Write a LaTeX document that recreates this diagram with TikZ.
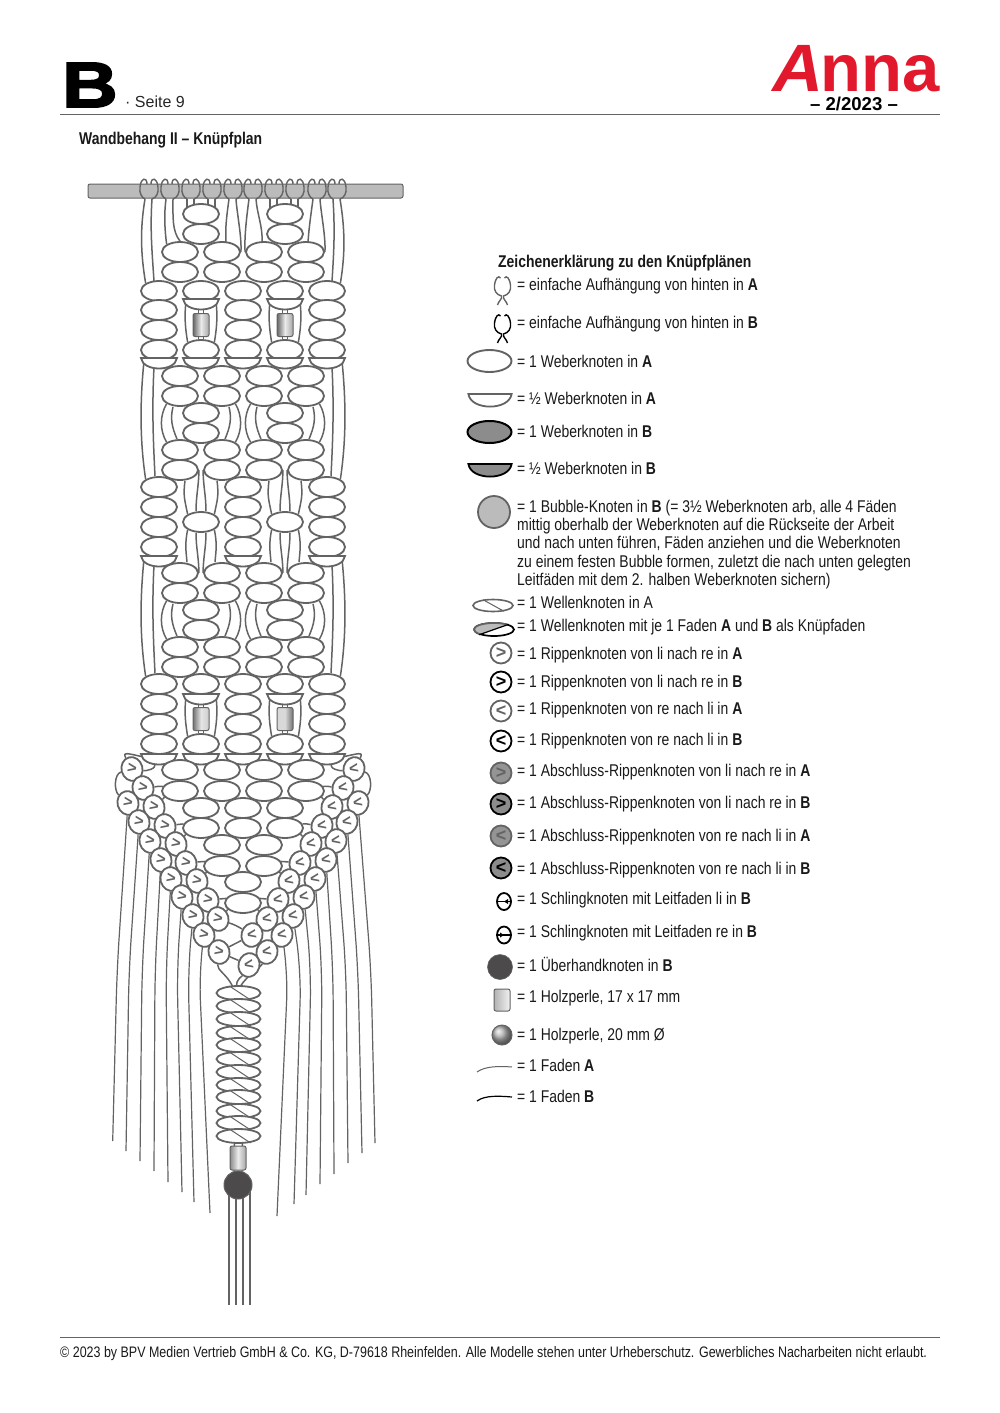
\documentclass[tikz,border=0pt]{standalone}
\usepackage{fontspec}
\setmainfont{Liberation Sans}[FakeStretch=0.82]
\newfontfamily\plainfont{Liberation Sans}
\newfontfamily\bigfont{Liberation Sans}[FakeStretch=1.2,FakeBold=3]
\newfontfamily\slantfont{Liberation Sans}[FakeSlant=0.2,FakeStretch=1.05]
\usetikzlibrary{shapes.geometric,backgrounds,calc}
\definecolor{fadenA}{HTML}{636363}
\definecolor{rodgrey}{HTML}{BBBBBB}
\definecolor{knotgrey}{HTML}{8C8C8C}
\definecolor{darkball}{HTML}{4D4A4B}
\definecolor{annared}{HTML}{E2182D}
\newcommand{\ribr}{\rotatebox{-25}{\plainfont\bfseries >}}
\newcommand{\ribl}{\rotatebox{25}{\plainfont\bfseries <}}
\tikzset{faden/.style={draw=fadenA,line width=1.5pt}}
\tikzset{fringe/.style={draw=fadenA,line width=1.2pt,rounded corners=30pt}}
\tikzset{knot/.style={ellipse,draw=fadenA,fill=white,line width=1.8pt,minimum width=36pt,minimum height=20pt,inner sep=0pt}}
\tikzset{wknot/.style={ellipse,draw=fadenA,fill=white,line width=1.8pt,minimum width=44pt,minimum height=14pt,inner sep=0pt}}
\tikzset{ribchain/.style={ellipse,draw=fadenA,fill=white,text=fadenA,line width=1.8pt,minimum width=21pt,minimum height=24pt,inner sep=0pt,font=\fontsize{16}{16}\selectfont}}
\tikzset{ribkey/.style={circle,line width=1.8pt,minimum size=21pt,inner sep=0pt,font=\plainfont\bfseries\fontsize{18}{18}\selectfont}}
\tikzset{bead/.style={rectangle,rounded corners=2pt,draw=fadenA,line width=1pt,minimum width=16pt,minimum height=23pt,inner sep=0pt}}
\tikzset{legtext/.style={anchor=west,inner sep=0pt,yshift=-0.7pt,text=black!90,font=\fontsize{17}{18.3}\selectfont}}
\tikzset{pics/halfknot/.style={code={
  \draw[line width=1.8pt,fill=#1] (-18,0) -- (18,0) .. controls (16,14) and (-16,14) .. (-18,0) -- cycle;
  \coordinate (-a) at (-15,3);
  \coordinate (-b) at (-5,9);
  \coordinate (-c) at (5,9);
  \coordinate (-d) at (15,3);
}},pics/halfknot/.default=white}
\tikzset{pics/hanger/.style={code={
  \draw[line width=1.4pt] (-2,-7) .. controls (-2,-14) and (-8,-14) .. (-9,-4) .. controls (-10,2) and (-7,7) .. (-4,8);
  \draw[line width=1.4pt] (2,-7) .. controls (2,-14) and (8,-14) .. (9,-4) .. controls (10,2) and (7,7) .. (3,8);
  \coordinate (-a) at (-4,8);
  \coordinate (-b) at (3,8);
}}}
\tikzset{pics/hangerkey/.style={code={
  \draw[line width=1.4pt] (-2,-9) .. controls (-4,-12) and (-7,-9) .. (-8,-2) .. controls (-9,3) and (-6,8) .. (-1,9) .. controls (0,12) and (-4,14) .. (-5,18);
  \draw[line width=1.4pt] (2,-9) .. controls (4,-12) and (7,-9) .. (8,-2) .. controls (9,3) and (6,8) .. (1,9) .. controls (0,12) and (4,14) .. (5,18);
}}}

\begin{document}
\begin{tikzpicture}[x=1pt,y=-1pt]
  \useasboundingbox (0,0) rectangle (1000,1413);
  % head and foot
  \node[anchor=base west,inner sep=0pt,font=\bigfont\bfseries\fontsize{64}{64}\selectfont] (letter) at (62,107) {B};
  \node[anchor=base west,inner sep=0pt,text=black!85,font=\plainfont\fontsize{16}{16}\selectfont] (page) at (125,107) {· Seite 9};
  \node[anchor=base east,inner sep=0pt,text=annared,font=\plainfont\bfseries\fontsize{67}{67}\selectfont] (logo) at (940,92) {{\slantfont\bfseries A}nna};
  \node[inner sep=0pt,font=\plainfont\bfseries\fontsize{18.6}{18.6}\selectfont] (issue) at (854,104) {– 2/2023 –};
  \coordinate (headl) at (60,114.5);
  \coordinate (headr) at (940,114.5);
  \coordinate (footl) at (60,1337.5);
  \coordinate (footr) at (940,1337.5);
  \draw[fadenA,line width=0.8pt] (headl) -- (headr);
  \draw[fadenA,line width=0.8pt] (footl) -- (footr);
  \node[legtext,font=\bfseries\fontsize{17}{18}\selectfont] (title) at (79,139) {Wandbehang II – Knüpfplan};
  \node[legtext,font=\fontsize{15.2}{18}\selectfont] (foot) at (60,1353) {© 2023 by BPV Medien Vertrieb GmbH \& Co. KG, D-79618 Rheinfelden. Alle Modelle stehen unter Urheberschutz. Gewerbliches Nacharbeiten nicht erlaubt.};

  % rod and hangers
  \node[rectangle,rounded corners=2pt,draw=fadenA,fill=rodgrey,line width=1pt,minimum width=315pt,minimum height=14pt,inner sep=0pt] (rod) at (245.5,191) {};
  \foreach \x [count=\i] in {149,170,191,212,233,253,274,295,317,337}
    \pic[color=fadenA] (h\i) at (\x,191) {hanger};

  % knots
  \foreach \c in {201,285} \foreach \r in {214,234,291,350,413,433,522,610,630,684,744,808,828}
    \node[knot] (k\c-\r) at (\c,\r) {};
  \foreach \c in {159,327} \foreach \r in {291,310,330,350,487,507,527,547,684,704,724,744}
    \node[knot] (k\c-\r) at (\c,\r) {};
  \foreach \r in {291,310,330,350,487,507,527,547,684,704,724,744,808,828,882,903}
    \node[knot] (k243-\r) at (243,\r) {};
  \foreach \c in {222,264} \foreach \r in {845,866}
    \node[knot] (k\c-\r) at (\c,\r) {};
  \foreach \c in {159,201,243,285,327} \foreach \r in {358,754}
    \pic[color=fadenA] (b\c-\r) at (\c,\r) {halfknot};
  \foreach \c in {159,243,327}
    \pic[color=fadenA] (b\c-556) at (\c,556) {halfknot};
  \foreach \c in {201,285} \foreach \r in {299,694}
    \pic[color=fadenA] (b\c-\r) at (\c,\r) {halfknot};
  \foreach \c in {180,222,264,306} \foreach \r in {252,272,376,396,450,470,573,593,647,667,770,791}
    \node[knot] (k\c-\r) at (\c,\r) {};

  % beads
  \node[bead,left color=black!60,right color=black!35,middle color=black!8] (p1) at (201,325) {};
  \node[bead,left color=black!60,right color=black!35,middle color=black!8] (p2) at (285,325) {};
  \node[bead,left color=black!55,right color=black!20,middle color=black!10] (p3) at (201,719) {};
  \node[bead,left color=black!15,right color=black!55,middle color=black!15] (p4) at (285,719) {};

  % rib knots
  \foreach \x/\y [count=\i] in {132/769,143/788,154/807,165/826,176/844,186/863,197/881,208/900,218/919}
    \node[ribchain,rotate=15] (la\i) at (\x,\y) {\ribr};
  \foreach \x/\y [count=\i] in {128/803,139/822,150/841,161/860,171/879,182/897,193/916,204/935,219/952}
    \node[ribchain,rotate=15] (lb\i) at (\x,\y) {\ribr};
  \foreach \x/\y [count=\i] in {354/769,343/788,332/807,322/826,311/844,300/863,289/881,278/900,267/919,252/935}
    \node[ribchain,rotate=-15] (ra\i) at (\x,\y) {\ribl};
  \foreach \x/\y [count=\i] in {358/803,347/822,336/841,326/860,315/879,304/897,293/916,282/935,267/952,249/965}
    \node[ribchain,rotate=-15] (rb\i) at (\x,\y) {\ribl};

  % twisted section, bead and ball
  \foreach \y [count=\i] in {993,1006,1019,1033,1045,1059,1072,1085,1097,1111,1123,1136}{
    \node[wknot] (w\i) at (238.5,\y) {};
    \draw[faden,line width=1pt] ($(w\i.north)+(-9,1)$) -- ($(w\i.south)+(12,-1)$);
  }
  \node[bead,minimum height=24pt,left color=black!45,right color=black!35,middle color=black!8] (p5) at (238,1158) {};
  \node[circle,draw=fadenA,fill=darkball,line width=1pt,minimum size=28pt,inner sep=0pt] (ball) at (238,1185) {};

  \begin{scope}[on background layer]
    % threads below the rod
    \draw[faden] (h1-a) .. controls +(-5,30) and +(-5,-30) .. (k159-291.north west);
    \draw[faden] (h1-b) .. controls +(-2,30) and +(-2,-30) .. ($(k159-291.north)+(-5,1)$);
    \draw[faden] (h2-a) .. controls +(-2,15) and +(-2,-15) .. (k180-252.north west);
    \draw[faden] (h2-b) .. controls +(0,18) and +(-8,-10) .. (k180-252.north);
    \foreach \i/\c in {3/201,4/201,7/285,8/285}{
      \draw[faden] (h\i-a) -- (h\i-a |- k\c-214);
      \draw[faden] (h\i-b) -- (h\i-b |- k\c-214);
    }
    \draw[faden] (h5-a) .. controls +(-2,15) and +(-1,-15) .. ($(k222-252.north)+(4,1)$);
    \draw[faden] (h5-b) .. controls +(1,15) and +(1,-15) .. (k222-252.east);
    \draw[faden] (h6-a) .. controls +(-2,15) and +(-1,-15) .. (k264-252.west);
    \draw[faden] (h6-b) .. controls +(1,15) and +(1,-15) .. ($(k264-252.north)+(-2,1)$);
    \draw[faden] (h9-a) .. controls +(-2,15) and +(1,-15) .. ($(k306-252.north)+(2,1)$);
    \draw[faden] (h9-b) .. controls +(1,15) and +(1,-15) .. (k306-252.east);
    \draw[faden] (h10-a) .. controls +(2,30) and +(2,-30) .. ($(k327-291.north)+(5,1)$);
    \draw[faden] (h10-b) .. controls +(5,30) and +(5,-30) .. (k327-291.north east);

    % threads at the outer sides
    \foreach \hr/\kr in {358/487,556/684}{
      \draw[faden] (b159-\hr-a) .. controls +(-4,40) and +(-6,-40) .. (k159-\kr.north west);
      \draw[faden] (b159-\hr-b) .. controls +(-2,40) and +(-2,-40) .. ($(k159-\kr.north)+(-4,0)$);
      \draw[faden] (b327-\hr-d) .. controls +(4,40) and +(6,-40) .. (k327-\kr.north east);
      \draw[faden] (b327-\hr-c) .. controls +(2,40) and +(2,-40) .. ($(k327-\kr.north)+(4,0)$);
    }

    % threads round the double knots
    \foreach \c/\lc/\rc in {201/180/222,285/264/306} \foreach \ra/\rb in {396/450,593/647}{
      \draw[faden] (k\lc-\ra.south west) .. controls +(-7,12) and +(-7,-12) .. (k\lc-\rb.north west);
      \draw[faden] ($(k\lc-\ra.south)+(-7,0)$) .. controls +(-3,12) and +(-5,-12) .. ($(k\lc-\rb.north)+(-3,0)$);
      \draw[faden] (k\rc-\ra.south east) .. controls +(7,12) and +(7,-12) .. (k\rc-\rb.north east);
      \draw[faden] ($(k\rc-\ra.south)+(7,0)$) .. controls +(3,12) and +(5,-12) .. ($(k\rc-\rb.north)+(3,0)$);
    }

    % threads above and below the single knot
    \foreach \c/\lc/\rc in {201/180/222,285/264/306}{
      \draw[faden] ($(k\lc-470.south)+(5,0)$) .. controls +(-2,15) and +(-3,-15) .. (k\c-522.north west);
      \draw[faden] (k\lc-470.east) .. controls +(0,15) and +(0,-15) .. ($(k\c-522.north)+(-5,0)$);
      \draw[faden] (k\rc-470.west) .. controls +(0,15) and +(0,-15) .. ($(k\c-522.north)+(5,0)$);
      \draw[faden] ($(k\rc-470.south)+(-5,0)$) .. controls +(2,15) and +(3,-15) .. (k\c-522.north east);
      \draw[faden] (k\c-522.south west) .. controls +(-3,15) and +(-1,-12) .. ($(k\lc-573.north)+(7,0)$);
      \draw[faden] ($(k\c-522.south)+(-5,0)$) .. controls +(0,15) and +(0,-15) .. (k\lc-573.east);
      \draw[faden] ($(k\c-522.south)+(5,0)$) .. controls +(0,15) and +(0,-15) .. (k\rc-573.west);
      \draw[faden] (k\c-522.south east) .. controls +(3,15) and +(1,-12) .. ($(k\rc-573.north)+(-7,0)$);
    }

    % threads round the beads
    \foreach \c in {201,285} \foreach \hr/\kr in {299/350,694/744}{
      \draw[faden] (b\c-\hr-a) .. controls +(-2,15) and +(-2,-12) .. (k\c-\kr.north west);
      \draw[faden] (b\c-\hr-d) .. controls +(2,15) and +(2,-12) .. (k\c-\kr.north east);
      \draw[faden] ($(b\c-\hr-b)+(2.5,0)$) -- ($(k\c-\kr.north)+(-2.5,0)$);
      \draw[faden] ($(b\c-\hr-c)+(-2.5,0)$) -- ($(k\c-\kr.north)+(2.5,0)$);
    }

    % fringe
    \foreach \vx/\ex/\ey [count=\i] in {117/112.7/1141,129/126/1151,142/140/1161,155/154/1171,166/168/1182,177/182/1192,188/194/1202,199/210/1213}{
      \coordinate (fl\i) at (\ex,\ey);
      \draw[fringe] (lb\i) -- (\vx,970) -- (fl\i);
    }
    \foreach \vx/\ex/\ey [count=\i] in {371/375/1143,358/362/1153,346/348/1163,333/334/1174,322/320/1184,311/306/1195,301/294/1204,288/277/1216}{
      \coordinate (fr\i) at (\ex,\ey);
      \draw[fringe] (rb\i) -- (\vx,970) -- (fr\i);
    }

    % short threads along the chains
    \draw[faden] (la1) .. controls +(-18,5) and +(-14,-12) .. (lb1);
    \draw[faden] (ra1) .. controls +(18,5) and +(14,-12) .. (rb1);
    \draw[faden] (la1) .. controls +(-10,-18) and +(-15,-3) .. (b159-754-a);
    \draw[faden] (ra1) .. controls +(10,-18) and +(15,-3) .. (b327-754-d);
    \draw[faden] (la1) .. controls +(14,2) and +(4,6) .. (b159-754-b);
    \draw[faden] (ra1) .. controls +(-14,2) and +(-4,6) .. (b327-754-c);
    \foreach \a/\t in {2/180-791,3/180-791,4/201-828,5/201-828,6/222-866,7/222-866,8/243-903,9/243-903}
      \draw[faden] (la\a) to[bend left=10] (k\t);
    \foreach \a/\t in {2/306-791,3/306-791,4/285-828,5/285-828,6/264-866,7/264-866,8/243-903,9/243-903}
      \draw[faden] (ra\a) to[bend right=10] (k\t);
    \draw[faden] (la9) to[bend left=6] (ra10);
    \draw[faden] (lb9) -- (ra10);
    \draw[faden] (lb9) -- (rb10);

    % into the twisted section and below it
    \draw[faden] (lb9) .. controls +(-2,18) and +(-6,-12) .. ($(w1.north)+(-6,1)$);
    \draw[faden] (rb10) .. controls +(-6,10) and +(-1,-6) .. ($(w1.north)+(-2,1)$);
    \draw[faden] (rb9) .. controls +(-6,15) and +(6,-10) .. ($(w1.north)+(2,1)$);
    \draw[faden] ($(w12.south)+(-4,0)$) -- ($(ball.north)+(-4,0)$);
    \draw[faden] ($(w12.south)+(4,0)$) -- ($(ball.north)+(4,0)$);
    \foreach \x [count=\i] in {229,236,243,250}{
      \coordinate (t\i) at (\x,1305);
      \draw[faden] (t\i) -- (t\i |- ball);
    }
  \end{scope}

  % legend
  \node[legtext,font=\bfseries\fontsize{17}{18}\selectfont] (legtitle) at (498,262) {Zeichenerklärung zu den Knüpfplänen};

  \pic[color=fadenA] (key1) at (502.5,287) {hangerkey};
  \node[legtext] (t1) at (517,285) {= einfache Aufhängung von hinten in \textbf{A}};
  \pic[color=black] (key2) at (502.5,325) {hangerkey};
  \node[legtext] (t2) at (517,323) {= einfache Aufhängung von hinten in \textbf{B}};

  \node[ellipse,draw=fadenA,fill=white,line width=1.9pt,minimum width=44pt,minimum height=22pt,inner sep=0pt] (key3) at (489.5,361) {};
  \node[legtext] (t3) at (517,361) {= 1 Weberknoten in \textbf{A}};
  \pic[color=fadenA,scale=1.2] (key4) at (490,394) {halfknot};
  \node[legtext] (t4) at (517,398) {= ½ Weberknoten in \textbf{A}};
  \node[ellipse,draw=black,fill=knotgrey,line width=2pt,minimum width=44pt,minimum height=22pt,inner sep=0pt] (key5) at (489.5,432) {};
  \node[legtext] (t5) at (517,431) {= 1 Weberknoten in \textbf{B}};
  \pic[color=black,scale=1.2] (key6) at (490,464) {halfknot=knotgrey};
  \node[legtext] (t6) at (517,468) {= ½ Weberknoten in \textbf{B}};

  \node[circle,draw=fadenA,fill=rodgrey,line width=1.8pt,minimum size=32pt,inner sep=0pt] (key7) at (494,512) {};
  \node[legtext,anchor=north west,align=left] (t7) at (517,499) {= 1 Bubble-Knoten in \textbf{B} (= 3½ Weberknoten arb, alle 4 Fäden\\mittig oberhalb der Weberknoten auf die Rückseite der Arbeit\\und nach unten führen, Fäden anziehen und die Weberknoten\\zu einem festen Bubble formen, zuletzt die nach unten gelegten\\Leitfäden mit dem 2. halben Weberknoten sichern)};

  \node[ellipse,draw=fadenA,fill=white,line width=1.6pt,minimum width=40pt,minimum height=12pt,inner sep=0pt] (key8) at (493,605.5) {};
  \draw[fadenA,line width=1pt] ($(key8.north)+(-10,1)$) -- ($(key8.south)+(11,-1)$);
  \node[legtext] (t8) at (517,602) {= 1 Wellenknoten in A};
  \node[ellipse,draw=black,fill=white,line width=1.7pt,minimum width=40pt,minimum height=13pt,inner sep=0pt] (key9) at (494,629.5) {};
  \begin{scope}
    \clip (key9.south west) -- (key9.north east) -- ($(key9.north)+(0,-5)$) -- ($(key9.west)+(-25,-3)$) -- cycle;
    \fill[rodgrey,draw=fadenA,line width=1.7pt] (key9.center) ellipse [x radius=20pt,y radius=6.5pt];
  \end{scope}
  \draw[black,line width=1.2pt] (key9.south west) -- (key9.north east);
  \node[legtext] (t9) at (517,626) {= 1 Wellenknoten mit je 1 Faden \textbf{A} und \textbf{B} als Knüpfaden};

  \node[ribkey,draw=fadenA,text=fadenA] (key10) at (501,653) {>};
  \node[legtext] (t10) at (517,654) {= 1 Rippenknoten von li nach re in \textbf{A}};
  \node[ribkey,draw=black,text=black] (key11) at (501,682) {>};
  \node[legtext] (t11) at (517,682) {= 1 Rippenknoten von li nach re in \textbf{B}};
  \node[ribkey,draw=fadenA,text=fadenA] (key12) at (501,711) {<};
  \node[legtext] (t12) at (517,709) {= 1 Rippenknoten von re nach li in \textbf{A}};
  \node[ribkey,draw=black,text=black] (key13) at (501,741) {<};
  \node[legtext] (t13) at (517,740) {= 1 Rippenknoten von re nach li in \textbf{B}};
  \node[ribkey,draw=fadenA,fill=black!42,text=fadenA] (key14) at (501,773) {>};
  \node[legtext] (t14) at (517,771) {= 1 Abschluss-Rippenknoten von li nach re in \textbf{A}};
  \node[ribkey,draw=black,fill=knotgrey,text=black] (key15) at (501,804) {>};
  \node[legtext] (t15) at (517,803) {= 1 Abschluss-Rippenknoten von li nach re in \textbf{B}};
  \node[ribkey,draw=fadenA,fill=black!42,text=fadenA] (key16) at (501,836) {<};
  \node[legtext] (t16) at (517,836) {= 1 Abschluss-Rippenknoten von re nach li in \textbf{A}};
  \node[ribkey,draw=black,fill=knotgrey,text=black] (key17) at (501,868) {<};
  \node[legtext] (t17) at (517,869) {= 1 Abschluss-Rippenknoten von re nach li in \textbf{B}};

  \node[ellipse,draw=black,fill=white,line width=1.8pt,minimum width=14pt,minimum height=17pt,inner sep=0pt] (key18) at (504,901.5) {};
  \draw[black,line width=1.2pt] (key18.west) -- (key18.east);
  \fill[black] (key18.center) -- +(4,-2.5) -- +(4,2.5) -- cycle;
  \node[legtext] (t18) at (517,899) {= 1 Schlingknoten mit Leitfaden li in \textbf{B}};
  \node[ellipse,draw=black,fill=white,line width=1.8pt,minimum width=14pt,minimum height=17pt,inner sep=0pt] (key19) at (504,935) {};
  \draw[black,line width=1.2pt] (key19.west) -- (key19.east);
  \fill[black] (key19.center) -- +(-4,-2.5) -- +(-4,2.5) -- cycle;
  \node[legtext] (t19) at (517,932) {= 1 Schlingknoten mit Leitfaden re in \textbf{B}};

  \node[circle,draw=fadenA,fill=darkball,line width=0.6pt,minimum size=25pt,inner sep=0pt] (key20) at (500,967) {};
  \node[legtext] (t20) at (517,964) {= 1 Überhandknoten in \textbf{B}};
  \node[bead,minimum height=22pt,left color=black!30,right color=black!5] (key21) at (502,1000) {};
  \node[legtext] (t21) at (517,997) {= 1 Holzperle, 17 x 17 mm};
  \node[circle,draw=fadenA,line width=1pt,minimum size=20pt,inner sep=0pt,shading=ball,ball color=black!30] (key22) at (502,1035) {};
  \node[legtext] (t22) at (517,1035) {= 1 Holzperle, 20 mm Ø};

  \coordinate (fa1) at (477,1072);
  \coordinate (fa2) at (512,1067);
  \draw[fadenA,line width=1pt] (fa1) .. controls +(8,-6) and +(-12,-1) .. (fa2);
  \node[legtext] (t23) at (517,1065) {= 1 Faden \textbf{A}};
  \coordinate (fb1) at (477,1101);
  \coordinate (fb2) at (512,1097);
  \draw[black,line width=1.2pt] (fb1) .. controls +(8,-6) and +(-12,-1) .. (fb2);
  \node[legtext] (t24) at (517,1096) {= 1 Faden \textbf{B}};
\end{tikzpicture}
\end{document}
